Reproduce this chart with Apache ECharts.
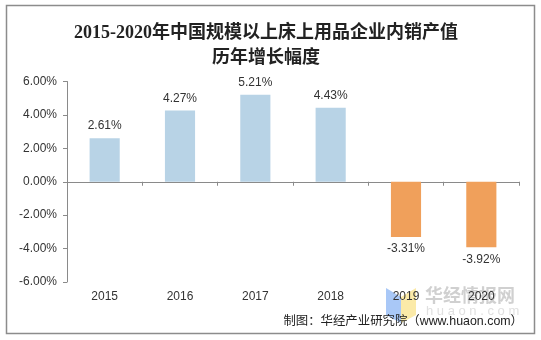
<!DOCTYPE html>
<html>
<head>
<meta charset="utf-8">
<script src="https://cdn.jsdelivr.net/npm/echarts@6/dist/echarts.min.js"></script>
<style>html,body{margin:0;padding:0;background:#fff}#c{width:541px;height:340px}</style>
</head>
<body>
<div id="c"></div>
<script>
var titleText = '2015-2020年中国规模以上床上用品企业内销产值\n历年增长幅度';
var sourceText = '制图：华经产业研究院（www.huaon.com）';
var years = ['2015', '2016', '2017', '2018', '2019', '2020'];
var growth = [2.61, 4.27, 5.21, 4.43, -3.31, -3.92];
var yTicks = { min: -6, max: 6, interval: 2 };

var BLUE = '#B8D3E6', ORANGE = '#F0A05B', AXIS = '#8a8a8a', TXT = '#333';
var FONT = '"Liberation Sans", Arial, sans-serif';

var chart = echarts.init(document.getElementById('c'), null, { renderer: 'canvas' });
chart.setOption({
  animation: false,
  backgroundColor: '#fff',
  title: {
    text: titleText,
    left: 261, top: 16, textAlign: 'center',
    textStyle: { fontFamily: '"Liberation Serif", "Noto Sans CJK SC", serif', fontSize: 18, fontWeight: 'bold', color: '#222', lineHeight: 25 }
  },
  grid: { left: 67, right: 22, top: 81.5, bottom: 58 },
  xAxis: [{
    type: 'category', data: years, position: 'bottom',
    axisLine: { onZero: true, lineStyle: { color: AXIS, width: 1 } },
    axisTick: { show: true, length: 4, lineStyle: { color: AXIS } },
    axisLabel: { show: false }
  }, {
    type: 'category', data: years, position: 'bottom',
    axisLine: { show: false }, axisTick: { show: false },
    axisLabel: { margin: 9, fontSize: 12, color: TXT, fontFamily: FONT }
  }],
  yAxis: {
    type: 'value', min: yTicks.min, max: yTicks.max, interval: yTicks.interval,
    axisLine: { show: true, lineStyle: { color: AXIS } },
    axisTick: { show: true, length: 4, lineStyle: { color: AXIS } },
    splitLine: { show: false },
    axisLabel: { margin: 10, fontSize: 12, color: TXT, fontFamily: FONT,
      formatter: function (v) { return v.toFixed(2) + '%'; } }
  },
  series: [{
    type: 'bar', xAxisIndex: 0, barWidth: '40%',
    data: growth.map(function (v) {
      return { value: v, itemStyle: { color: v >= 0 ? BLUE : ORANGE },
        label: { position: v >= 0 ? 'top' : 'bottom' } };
    }),
    label: { show: true, distance: 6, fontSize: 12, color: TXT, fontFamily: FONT,
      formatter: function (p) { return p.value.toFixed(2) + '%'; } }
  }],
  graphic: [
    { type: 'rect', shape: { x: 6.5, y: 5.5, width: 528, height: 328 }, style: { fill: null, stroke: '#8c8c8c', lineWidth: 1.5 }, z: 0 },
    { type: 'polygon', shape: { points: [[386, 288], [401, 297], [401, 323], [386, 315]] }, style: { fill: '#A9C8F7' }, z: 0 },
    { type: 'polygon', shape: { points: [[401, 297], [416, 288], [416, 315], [401, 323]] }, style: { fill: '#FBEAA8' }, z: 0 },
    { type: 'text', x: 425, y: 295, style: { text: '华经情报网', fill: '#d0d0d0', font: 'bold 18px "Noto Sans CJK SC"', verticalAlign: 'middle' }, z: 0 },
    { type: 'text', x: 426, y: 311, style: { text: 'h u a o n . c o m', fill: '#e0e0e0', font: '13px "Liberation Sans"', verticalAlign: 'middle' }, z: 0 },
    { type: 'text', x: 523, y: 322, style: { text: sourceText, fill: '#222', font: '12.4px "Liberation Sans", "Noto Sans CJK SC"', align: 'right', verticalAlign: 'middle' }, z: 10 }
  ]
});
</script>
</body>
</html>
